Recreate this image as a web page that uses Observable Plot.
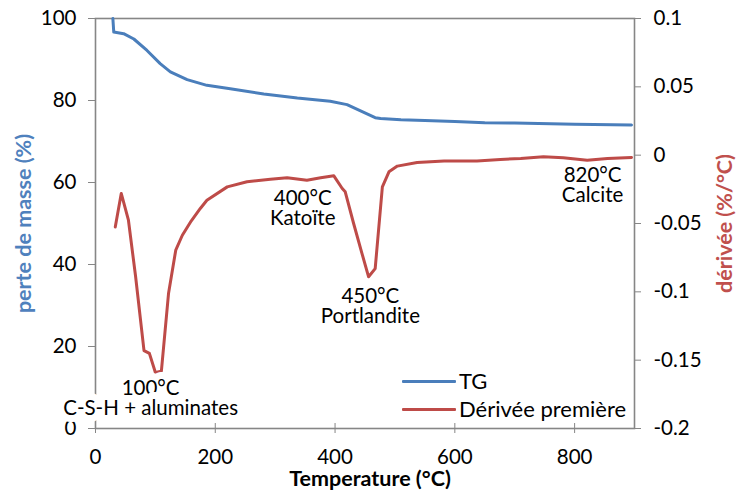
<!DOCTYPE html>
<html>
<head>
<meta charset="utf-8">
<script src="https://cdn.jsdelivr.net/npm/d3@7"></script>
<script src="https://cdn.jsdelivr.net/npm/@observablehq/plot@0.6"></script>
<style>
  html, body { margin: 0; padding: 0; background: #fff; }
  #wrap { position: relative; width: 737px; height: 490px; font-family: Lato, sans-serif; }
  #legend { position: absolute; left: 402px; top: 367px; font-size: 22px; color: #000; line-height: 28px; }
  #legend .row { display: flex; align-items: center; white-space: nowrap; }
  #legend .sw { width: 54px; height: 3px; margin-right: 3px; border-radius: 1px; }
</style>
</head>
<body>
<div id="wrap"></div>
<script>
// ---- data ----
// TG curve (mass, %), left axis
const tgTemp = [29, 30.5, 47, 64, 86, 108, 125, 153, 186, 225, 281, 337, 392, 420, 448, 467, 476, 510, 550, 600, 650, 700, 800, 895];
const tgMass = [100, 96.7, 96.3, 95.0, 92.2, 89.0, 87.0, 85.1, 83.7, 82.85, 81.6, 80.6, 79.8, 79.0, 77.1, 75.8, 75.6, 75.3, 75.1, 74.9, 74.6, 74.5, 74.2, 74.0];
// First derivative (%/°C), right axis
const dtgTemp = [33, 43, 55, 67, 81, 90, 100, 110, 122, 134, 145, 160, 175, 186, 220, 253, 292, 320, 353, 376, 398, 412, 417, 431, 445, 456, 467, 479, 490, 504, 537, 582, 637, 676, 710, 748, 781, 821, 855, 895];
const dtgVal = [-0.0525, -0.028, -0.0476, -0.089, -0.143, -0.145, -0.159, -0.158, -0.101, -0.0695, -0.0586, -0.048, -0.039, -0.033, -0.0232, -0.0195, -0.0176, -0.0166, -0.0183, -0.0166, -0.0151, -0.0244, -0.0268, -0.050, -0.072, -0.089, -0.083, -0.0232, -0.0122, -0.008, -0.0053, -0.0042, -0.0042, -0.0031, -0.0024, -0.0012, -0.0019, -0.0037, -0.0024, -0.0017];
// axes
const xTicks = [0, 200, 400, 600, 800];
const leftTicks = [0, 20, 40, 60, 80, 100];
const rightTicks = [-0.2, -0.15, -0.1, -0.05, 0, 0.05, 0.1];
// annotations (temperature, position in left-axis %)
const annTemp = [92, 346, 459, 830];
const annPos = [7.2, 53.6, 29.7, 59.2];
const annText = ["100°C\nC-S-H + aluminates", "400°C\nKatoïte", "450°C\nPortlandite", "820°C\nCalcite"];
const seriesNames = ["TG", "Dérivée première"];

const BLUE = "#4A7EBB", RED = "#BE4B48", GRAY = "#868686";

// map derivative onto the left-axis range
const d2v = d3.scaleLinear().domain([-0.2, 0.1]).range([0, 100]);

const tg = tgTemp.map((t, i) => ({t, v: tgMass[i]}));
const dtg = dtgTemp.map((t, i) => ({t, v: d2v(dtgVal[i])}));
const ann = annTemp.map((t, i) => ({t, v: annPos[i], text: annText[i]}));

const fmt = d => String(Math.round(d * 100) / 100);

const chart = Plot.plot({
  width: 737,
  height: 490,
  marginLeft: 95,
  marginRight: 103,
  marginTop: 18,
  marginBottom: 62,
  style: {fontFamily: "Lato, sans-serif", fontSize: "20px", color: "#000", background: "#fff"},
  x: {domain: [0, 900]},
  y: {domain: [0, 100]},
  marks: [
    Plot.frame({stroke: GRAY, strokeWidth: 1.6}),
    Plot.axisY(leftTicks, {anchor: "left", tickSize: 7, tickPadding: 12, stroke: GRAY, fill: "#000", fontSize: 20.5, label: null, tickFormat: d => String(d)}),
    Plot.axisY(rightTicks.map(d2v), {anchor: "right", tickSize: 6, tickPadding: 13, stroke: GRAY, fill: "#000", fontSize: 20.5, label: null, tickFormat: v => fmt(d2v.invert(v))}),
    Plot.axisX(xTicks, {anchor: "bottom", tickSize: 5, tickPadding: 16, stroke: GRAY, fill: "#000", fontSize: 20.5, label: null, tickFormat: d => String(d)}),
    Plot.axisX(xTicks, {anchor: "bottom", tickSize: -5, stroke: GRAY, text: null, label: null}),
    Plot.line(tg, {x: "t", y: "v", stroke: BLUE, strokeWidth: 3, curve: "linear"}),
    Plot.line(dtg, {x: "t", y: "v", stroke: RED, strokeWidth: 3, curve: "linear"}),
    Plot.text(ann.slice(0, 1), {x: "t", y: "v", text: "text", fontSize: 20.5, lineHeight: 0.98, fill: "#000", stroke: "white", strokeWidth: 14}),
    Plot.text(ann.slice(1), {x: "t", y: "v", text: "text", fontSize: 20.5, lineHeight: 0.98, fill: "#000"}),
    Plot.text(["Temperature (°C)"], {frameAnchor: "bottom", textAnchor: "middle", lineAnchor: "middle", dx: 5, dy: 51, fontWeight: "bold", fontSize: 21.5, fill: "#000"}),
    Plot.text(["perte de masse (%)"], {frameAnchor: "left", textAnchor: "middle", lineAnchor: "middle", dx: -71, rotate: -90, fontWeight: "bold", fontSize: 21.5, fill: "#4F81BD"}),
    Plot.text(["dérivée (%/°C)"], {frameAnchor: "right", textAnchor: "middle", lineAnchor: "middle", dx: 91, rotate: -90, fontWeight: "bold", fontSize: 21.5, fill: "#C0504D"})
  ]
});

const wrap = document.getElementById("wrap");
wrap.appendChild(chart);

const legend = document.createElement("div");
legend.id = "legend";
[BLUE, RED].forEach((c, i) => {
  const row = document.createElement("div");
  row.className = "row";
  const sw = document.createElement("span");
  sw.className = "sw";
  sw.style.background = c;
  const lab = document.createElement("span");
  lab.textContent = seriesNames[i];
  row.appendChild(sw);
  row.appendChild(lab);
  legend.appendChild(row);
});
wrap.appendChild(legend);
</script>
</body>
</html>
